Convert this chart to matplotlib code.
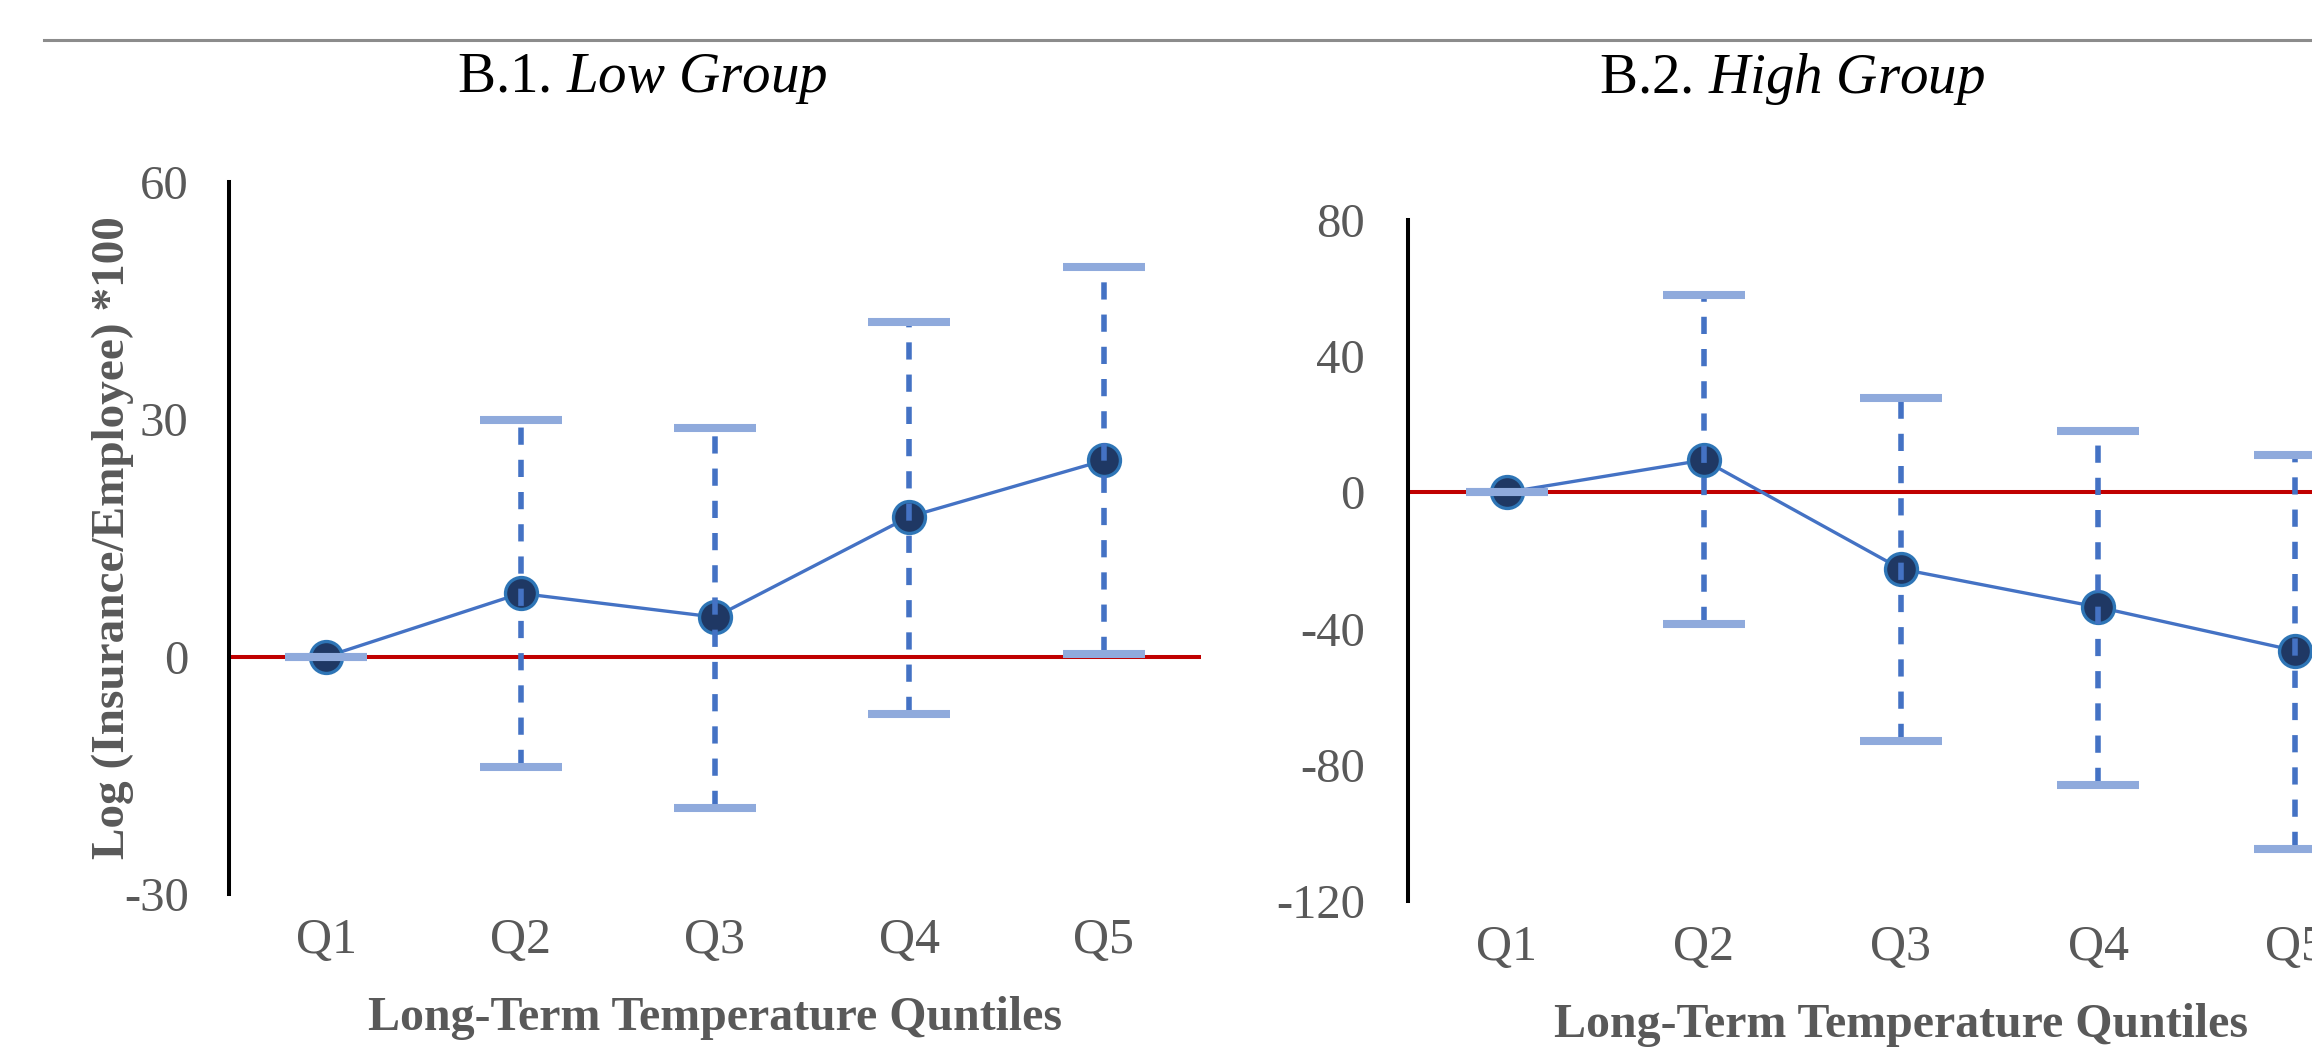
import matplotlib
matplotlib.use("Agg")
import matplotlib.pyplot as plt
from matplotlib.lines import Line2D
import numpy as np

plt.rcParams["font.family"] = ["Liberation Serif", "DejaVu Serif"]
plt.rcParams["mathtext.fontset"] = "custom"
plt.rcParams["mathtext.rm"] = "Liberation Serif"
plt.rcParams["mathtext.it"] = "Liberation Serif:italic"
plt.rcParams["axes.unicode_minus"] = False

# quintile categories
quintiles = ["Q1", "Q2", "Q3", "Q4", "Q5"]

# B.1 low group: point estimate and 95% CI bounds
low_est = [0.0, 8.0, 5.0, 17.7, 24.8]
low_lo = [0.0, -13.9, -19.1, -7.3, 0.3]
low_hi = [0.0, 29.9, 28.9, 42.3, 49.3]

# B.2 high group
high_est = [0.0, 9.5, -22.5, -33.7, -46.5]
high_lo = [0.0, -38.6, -73.1, -85.9, -104.6]
high_hi = [0.0, 57.9, 27.8, 17.9, 11.0]

low_yticks = [-30, 0, 30, 60]
high_yticks = [-120, -80, -40, 0, 40, 80]

W, H = 2312, 1050
GRAY = "#595959"
LINE = "#4472C4"
CAP = "#8FAADC"


def draw_panel(ax, est, lo, hi, yticks, ypad):
    x = np.arange(1, len(quintiles) + 1)
    est = np.array(est)
    lo = np.array(lo)
    hi = np.array(hi)

    ax.axhline(0, color="#C00000", lw=2.9, zorder=1)
    ax.plot(x, est, color=LINE, lw=2.4, zorder=2)
    ax.plot(x, est, "o", ms=23, mfc="#1F3864", mec="#2E75B6", mew=2.4, zorder=3)
    _, caps, bars = ax.errorbar(x, est, yerr=[est - lo, hi - est], fmt="none",
                                ecolor=LINE, elinewidth=4, capsize=29.5,
                                capthick=5.8, zorder=4)
    for b in bars:
        b.set_linestyle((0, (3.1, 2.7)))
    for c in caps:
        c.set_color(CAP)
        c.set_markeredgecolor(CAP)
        c.set_markerfacecolor(CAP)
        c.set_zorder(5)

    ax.set_xlim(0.5, len(quintiles) + 0.5)
    ax.set_ylim(yticks[0], yticks[-1])
    ax.set_xticks(x)
    ax.set_xticklabels(quintiles)
    ax.set_yticks(yticks)
    ax.tick_params(axis="both", length=0, colors=GRAY)
    ax.tick_params(axis="y", labelsize=35, pad=ypad)
    ax.tick_params(axis="x", labelsize=36, pad=17)
    for s in ["top", "right", "bottom"]:
        ax.spines[s].set_visible(False)
    ax.spines["left"].set_linewidth(2.9)
    ax.spines["left"].set_color("black")
    ax.patch.set_alpha(0)


fig = plt.figure(figsize=(W / 100, H / 100), dpi=100)

ax1 = fig.add_axes([229 / W, 1 - 894 / H, 972 / W, 712 / H])
ax2 = fig.add_axes([1408 / W, 1 - 901 / H, 986 / W, 681 / H])

draw_panel(ax1, low_est, low_lo, low_hi, low_yticks, 29)
draw_panel(ax2, high_est, high_lo, high_hi, high_yticks, 31)

ax1.text(-0.120, 0.5, "Log (Insurance/Employee) *100", transform=ax1.transAxes,
         rotation=90, ha="center", va="center", fontsize=34,
         fontweight="bold", color=GRAY)
ax1.text(0.5, -0.174, "Long-Term Temperature Quntiles", transform=ax1.transAxes,
         ha="center", va="center", fontsize=34.5, fontweight="bold", color=GRAY)
ax2.text(0.5, -0.1815, "Long-Term Temperature Quntiles", transform=ax2.transAxes,
         ha="center", va="center", fontsize=34.5, fontweight="bold", color=GRAY)

fig.text(642 / W, 1 - 79 / H, r"B.1. $\mathit{Low\ Group}$", ha="center",
         va="center", fontsize=41, color="black")
fig.text(1792 / W, 1 - 79 / H, r"B.2. $\mathit{High\ Group}$", ha="center",
         va="center", fontsize=41, color="black")

fig.add_artist(Line2D([44 / W, 1.0], [1 - 40 / H, 1 - 40 / H],
                      color="#8C8C8C", lw=2.2))

fig.savefig("out.png", dpi=100)
